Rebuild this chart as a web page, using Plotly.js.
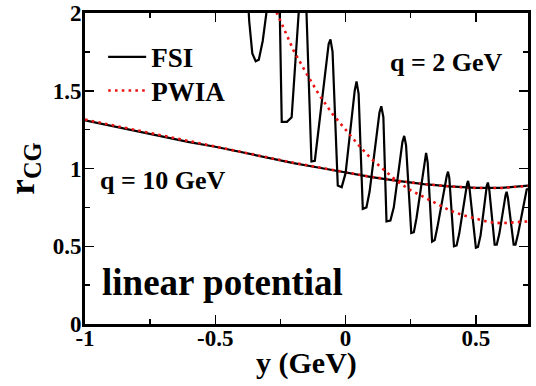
<!DOCTYPE html>
<html><head><meta charset="utf-8">
<script src="https://cdn.plot.ly/plotly-3.0.1.min.js"></script>
<style>body{margin:0;background:#fff}</style></head>
<body><div id="chart" style="width:536px;height:386px"></div>
<script>
// q = 10 GeV curves
const yQ10 = [-1, -0.9, -0.8, -0.7, -0.6, -0.5, -0.4, -0.3, -0.2, -0.1, 0, 0.1, 0.2, 0.3, 0.4, 0.5, 0.6, 0.7];
const fsiQ10 = [1.31, 1.275, 1.24, 1.205, 1.17, 1.14, 1.105, 1.07, 1.035, 1.005, 0.975, 0.945, 0.92, 0.9, 0.885, 0.875, 0.875, 0.89];
const pwiaQ10 = [1.315, 1.28, 1.245, 1.21, 1.175, 1.143, 1.108, 1.072, 1.037, 1.006, 0.976, 0.946, 0.921, 0.9, 0.885, 0.875, 0.875, 0.888];

// q = 2 GeV curves
const yFsiQ2 = [-0.39, -0.37, -0.358, -0.345, -0.333, -0.318, -0.3, -0.28, -0.262, -0.252, -0.245, -0.225, -0.207, -0.183, -0.168, -0.152, -0.131, -0.118, -0.09, -0.065, -0.058, -0.05, -0.03, -0.015, 0.0, 0.035, 0.042, 0.05, 0.066, 0.08, 0.092, 0.13, 0.137, 0.145, 0.157, 0.172, 0.185, 0.218, 0.225, 0.232, 0.252, 0.262, 0.272, 0.303, 0.309, 0.315, 0.332, 0.342, 0.352, 0.388, 0.393, 0.398, 0.416, 0.426, 0.436, 0.466, 0.47, 0.475, 0.5, 0.508, 0.518, 0.542, 0.546, 0.551, 0.572, 0.58, 0.59, 0.614, 0.618, 0.623, 0.645, 0.652, 0.662, 0.695, 0.7];
const fsiQ2 = [2.6, 1.95, 1.74, 1.69, 1.7, 1.82, 2.05, 2.35, 2.3, 1.95, 1.3, 1.3, 1.33, 2.0, 2.3, 2.1, 1.045, 1.05, 1.45, 1.8, 1.83, 1.75, 0.89, 0.88, 0.97, 1.5, 1.56, 1.48, 0.74, 0.75, 0.85, 1.36, 1.4, 1.33, 0.66, 0.665, 0.75, 1.17, 1.21, 1.15, 0.585, 0.59, 0.68, 1.06, 1.1, 1.04, 0.53, 0.54, 0.62, 0.95, 0.98, 0.94, 0.5, 0.505, 0.58, 0.9, 0.92, 0.88, 0.49, 0.495, 0.57, 0.89, 0.91, 0.87, 0.51, 0.51, 0.58, 0.83, 0.85, 0.81, 0.51, 0.51, 0.58, 0.865, 0.87];
const yPwiaQ2 = [-0.32, -0.28, -0.25, -0.2, -0.15, -0.1, -0.05, 0, 0.05, 0.1, 0.15, 0.2, 0.25, 0.3, 0.35, 0.4, 0.45, 0.5, 0.55, 0.6, 0.65, 0.7];
const pwiaQ2 = [2.25, 2.06, 1.95, 1.76, 1.61, 1.47, 1.35, 1.25, 1.15, 1.06, 0.985, 0.915, 0.86, 0.815, 0.77, 0.73, 0.7, 0.675, 0.655, 0.648, 0.652, 0.66];

const xTickVals = [-1, -0.5, 0, 0.5];
const xTickText = ['-1', '-0.5', '0', '0.5'];
const yTickVals = [0, 0.5, 1, 1.5, 2];
const yTickText = ['0', '0.5', '1', '1.5', '2'];

const FONT = 'Liberation Serif';
const RED = 'rgb(235,20,20)';
const solid = {color: '#000', width: 2.2};
const dotted = {color: RED, width: 2.6, dash: '2.6px,4.2px'};

const traces = [
  {x: yQ10, y: fsiQ10, mode: 'lines', line: solid, name: 'FSI', showlegend: true, legend: 'legend'},
  {x: yQ10, y: pwiaQ10, mode: 'lines', line: dotted, name: 'PWIA', showlegend: true, legend: 'legend2'},
  {x: yFsiQ2, y: fsiQ2, mode: 'lines', line: solid, name: 'FSI', showlegend: false},
  {x: yPwiaQ2, y: pwiaQ2, mode: 'lines', line: dotted, name: 'PWIA', showlegend: false}
];

const axisCommon = {
  showgrid: false, zeroline: false, showline: true, linecolor: '#000', linewidth: 3,
  mirror: 'ticks', ticks: 'inside', ticklen: 9, tickwidth: 1.5, tickcolor: '#000',
  tickfont: {family: FONT, size: 23, color: '#000', weight: 'bold'},
  minor: {ticks: 'inside', ticklen: 5, tickwidth: 1.5, tickcolor: '#000'}
};

const bold = (size) => ({family: FONT, size: size, color: '#000', weight: 'bold'});
const legendBase = {
  xanchor: 'left', yanchor: 'top', bgcolor: 'rgba(0,0,0,0)', borderwidth: 0,
  font: bold(27), itemwidth: 38
};

const layout = {
  width: 536, height: 386,
  margin: {l: 85, r: 8, t: 13, b: 62},
  paper_bgcolor: '#fff', plot_bgcolor: '#fff',
  font: {family: FONT},
  xaxis: Object.assign({}, axisCommon, {
    range: [-1, 0.7], tickvals: xTickVals, ticktext: xTickText,
    ticklabelstandoff: -9,
    minor: Object.assign({}, axisCommon.minor, {tickvals: [-0.75, -0.25, 0.25]})
  }),
  yaxis: Object.assign({}, axisCommon, {
    range: [0, 2], tickvals: yTickVals, ticktext: yTickText,
    ticklabelstandoff: -4,
    minor: Object.assign({}, axisCommon.minor, {tickvals: [0.25, 0.75, 1.25, 1.75]}),
    title: {text: 'r<sub>CG</sub>', font: bold(35), standoff: 8}
  }),
  showlegend: true,
  legend: Object.assign({}, legendBase, {x: 0.041, y: 0.936}),
  legend2: Object.assign({}, legendBase, {x: 0.041, y: 0.828}),
  annotations: [
    {text: 'y (GeV)', xref: 'paper', yref: 'paper', x: 0.5, y: -0.125, xanchor: 'center', yanchor: 'middle', showarrow: false,
     font: bold(30)},
    {text: 'q = 10 GeV', xref: 'paper', yref: 'paper', x: 0.029, y: 0.463, xanchor: 'left', yanchor: 'middle', showarrow: false,
     font: bold(26)},
    {text: 'q = 2 GeV', xref: 'paper', yref: 'paper', x: 0.683, y: 0.842, xanchor: 'left', yanchor: 'middle', showarrow: false,
     font: bold(26)},
    {text: 'linear potential', xref: 'paper', yref: 'paper', x: 0.034, y: 0.132, xanchor: 'left', yanchor: 'middle', showarrow: false,
     font: bold(37)}
  ]
};

Plotly.newPlot('chart', traces, layout, {displayModeBar: false, staticPlot: true});
</script>
</body></html>
